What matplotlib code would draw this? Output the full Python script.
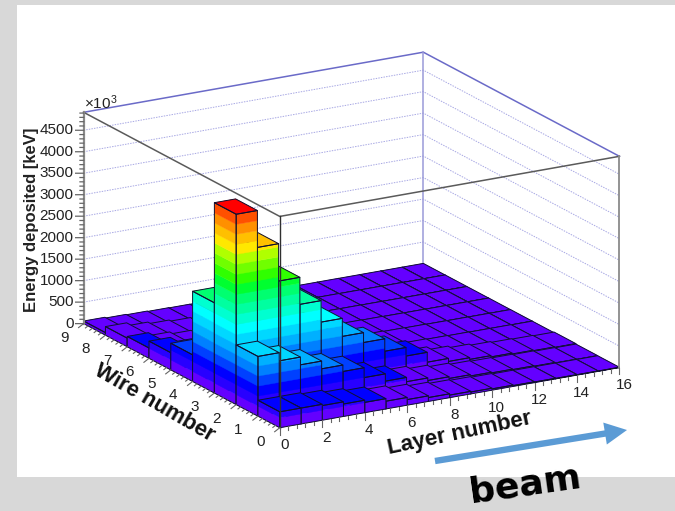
import matplotlib
matplotlib.use("Agg")
import matplotlib.pyplot as plt
import numpy as np
from matplotlib.patches import FancyArrowPatch, Rectangle
from mpl_toolkits.mplot3d import proj3d
from mpl_toolkits.mplot3d.art3d import Poly3DCollection

plt.rcParams['font.family'] = ['Liberation Sans', 'DejaVu Sans']
plt.rcParams['mathtext.default'] = 'regular'

# Energy per cell in keV x 10^3, one list per wire, layers 0 to 15
wire_0 = [370, 370, 340, 290, 240, 180, 130, 90, 60, 45, 30, 20, 15, 12, 10, 8]
wire_1 = [1390, 1200, 1020, 840, 690, 460, 290, 190, 130, 90, 60, 45, 35, 25, 15, 10]
wire_2 = [4430, 3570, 2700, 2070, 1570, 1150, 920, 630, 430, 200, 130, 90, 60, 40, 30, 20]
wire_3 = [2100, 1300, 800, 500, 300, 200, 150, 100, 70, 50, 30, 20, 15, 10, 10, 5]
wire_4 = [620, 450, 330, 230, 170, 120, 80, 60, 40, 30, 20, 15, 10, 8, 6, 5]
wire_5 = [400, 280, 200, 140, 100, 70, 50, 35, 25, 20, 15, 10, 8, 6, 5, 4]
wire_6 = [240, 170, 120, 90, 60, 40, 30, 20, 15, 12, 10, 8, 6, 5, 4, 3]
wire_7 = [200, 130, 90, 60, 40, 30, 20, 15, 12, 10, 8, 6, 5, 4, 3, 3]
wire_8 = [60, 40, 30, 20, 15, 12, 10, 8, 6, 5, 4, 4, 3, 3, 2, 2]
wires = [wire_0, wire_1, wire_2, wire_3, wire_4, wire_5, wire_6, wire_7, wire_8]

z_ticks = [0, 500, 1000, 1500, 2000, 2500, 3000, 3500, 4000, 4500]
layer_ticks = [0, 2, 4, 6, 8, 10, 12, 14, 16]
wire_ticks = [0, 1, 2, 3, 4, 5, 6, 7, 8, 9]

palette = ['#6400ff', '#2800ff', '#0000ff', '#0040ff', '#0080ff', '#00b0ff', '#00d8ff',
           '#00ffff', '#00ffd0', '#00ffa0', '#00ff70', '#00ff30', '#30ff00', '#70ff00',
           '#b0ff00', '#ffe800', '#ffc000', '#ff9000', '#ff5000', '#ff1000', '#ff0000']
band = 233.0
x_max, y_max, z_max = 16, 9, 4918


def side_bands(p0, p1, height):
    # split one vertical face in coloured slices, bottom to top
    polys, colors = [], []
    n = int(height // band)
    for k in range(n + 1):
        lo = k * band
        hi = min((k + 1) * band, height)
        if hi <= lo:
            continue
        polys.append([(p0[0], p0[1], lo), (p1[0], p1[1], lo), (p1[0], p1[1], hi), (p0[0], p0[1], hi)])
        colors.append(palette[min(k, len(palette) - 1)])
    return polys, colors


def draw_bar(ax, i, j, height, order):
    left = side_bands((i, j + 1), (i, j), height)
    right = side_bands((i, j), (i + 1, j), height)
    top = [(i, j, height), (i + 1, j, height), (i + 1, j + 1, height), (i, j + 1, height)]
    top_level = min(int(height // band) + (1 if height > band else 0), len(palette) - 1)

    fill = Poly3DCollection(left[0] + right[0] + [top],
                            facecolors=left[1] + right[1] + [palette[top_level]],
                            edgecolors=left[1] + right[1] + [palette[top_level]],
                            linewidths=0.3, zorder=order)
    ax.add_collection3d(fill, autolim=False)

    outline = [[(i, j + 1, 0), (i, j, 0), (i, j, height), (i, j + 1, height)],
               [(i, j, 0), (i + 1, j, 0), (i + 1, j, height), (i, j, height)],
               top]
    lines = Poly3DCollection(outline, facecolors=(0, 0, 0, 0), edgecolors='#101030',
                             linewidths=0.7, zorder=order + 0.5)
    ax.add_collection3d(lines, autolim=False)


def put_text(ax, x, y, z, s, **kwargs):
    # plain 2d text placed at a projected 3d point, so rotation is kept
    px, py, _ = proj3d.proj_transform(x, y, z, ax.get_proj())
    ax.text2D(px, py, s, transform=ax.transData, **kwargs)


fig = plt.figure(figsize=(6.75, 5.11), dpi=100, facecolor='#d8d8d8')
fig.add_artist(Rectangle((17 / 675, 34 / 511), 658 / 675, 472 / 511, transform=fig.transFigure,
                         facecolor='white', edgecolor='none', zorder=-5))

ax = fig.add_axes([53.7 / 675, -26.8 / 511, 580 / 675, 580 / 511], projection='3d', computed_zorder=False)
ax.patch.set_alpha(0)
ax.set_proj_type('ortho')
ax.view_init(elev=17.85, azim=-120)
ax.set_xlim(0, x_max, view_margin=0)
ax.set_ylim(0, y_max, view_margin=0)
ax.set_zlim(0, z_max, view_margin=0)
ax.set_box_aspect((391.7, 391.7, 221.7))
ax.set_axis_off()

# back walls
blue = '#6a6ac8'
for z in z_ticks[1:]:
    ax.plot([0, x_max, x_max], [y_max, y_max, 0], [z, z, z], color='#a8a8e4', lw=0.7, ls=(0, (1.5, 1.2)), zorder=1)
ax.plot([0, x_max, x_max], [y_max, y_max, 0], [z_max, z_max, z_max], color=blue, lw=1.1, zorder=1)
ax.plot([x_max, x_max], [y_max, y_max], [0, z_max], color='#9a9ad8', lw=1.1, zorder=1)

# bars, far ones first
order = 10
for j in range(len(wires) - 1, -1, -1):
    for i in range(x_max - 1, -1, -1):
        draw_bar(ax, i, j, wires[j][i], order)
        order += 1

# front box lines go over the bars
box = '#5a5a5a'
top_z = [z_max, z_max, z_max]
ax.plot([0, 0, x_max], [y_max, 0, 0], top_z, color=box, lw=1.1, zorder=order)
ax.plot([0, 0], [0, 0], [0, z_max], color='#303030', lw=1.0, zorder=order)
ax.plot([x_max, x_max], [0, 0], [0, z_max], color='#8a8a8a', lw=1.3, zorder=order)
ax.plot([0, 0], [y_max, y_max], [0, z_max], color='#8a8a8a', lw=1.6, zorder=order)

# z axis ticks and labels
for z in np.arange(0, z_max, 100):
    size = 0.283 if z % 500 == 0 else 0.13
    ax.plot([0, -size], [y_max, y_max + size * 0.325], [z, z], color='#666666', lw=0.9, zorder=order)
for z in z_ticks:
    put_text(ax, -0.353, y_max + 0.115, z, str(z), ha='right', va='center', fontsize=11, color='#222222')
put_text(ax, 0, y_max, z_max + 15, r'×10$^{3}$', ha='left', va='bottom', fontsize=11, color='#222222')

# layer axis
for x in np.arange(0, x_max + 0.01, 0.4):
    size = 160 if abs(x / 2 - round(x / 2)) < 1e-6 else 80
    ax.plot([x, x], [0, 0], [0, -size], color='#666666', lw=0.8, zorder=order)
for x in layer_ticks:
    put_text(ax, x + 0.22, 0, -425, str(x), ha='center', va='center', fontsize=11, color='#222222')

# wire axis
for y in np.arange(0, y_max + 0.01, 0.2):
    major = abs(y - round(y)) < 1e-6
    size = 0.24 if major else 0.12
    ax.plot([0, -size], [y, y], [0, -size * 300], color='#666666', lw=0.8, zorder=order)
for y in wire_ticks:
    put_text(ax, -0.92, y, -245, str(y), ha='center', va='center', fontsize=11, color='#222222')

put_text(ax, -1.84, y_max + 0.6, 2424, 'Energy deposited [keV]', rotation=90, ha='center', va='center',
         fontsize=12, fontweight='bold', color='#222222')
put_text(ax, -1.27, 4.5, -517, 'Wire number', rotation=-30, ha='center', va='center', rotation_mode='anchor',
         fontsize=16, fontweight='bold', color='#111111')
put_text(ax, 8.45, 0, -880, 'Layer number', rotation=12, ha='center', va='center', rotation_mode='anchor',
         fontsize=16, fontweight='bold', color='#111111')

# beam annotation
fig.add_artist(FancyArrowPatch((435 / 675, 1 - 461 / 511), (627 / 675, 1 - 430 / 511), transform=fig.transFigure,
                               arrowstyle='simple,head_length=16,head_width=16,tail_width=4.6',
                               mutation_scale=1, color='#5b9bd5', lw=0, shrinkA=0, shrinkB=0))
fig.text(525 / 675, 1 - 485 / 511, 'beam', rotation=8, ha='center', va='center', fontsize=26,
         fontweight='bold', family=['DejaVu Sans'], color='black')

fig.savefig('out.png', dpi=100)
